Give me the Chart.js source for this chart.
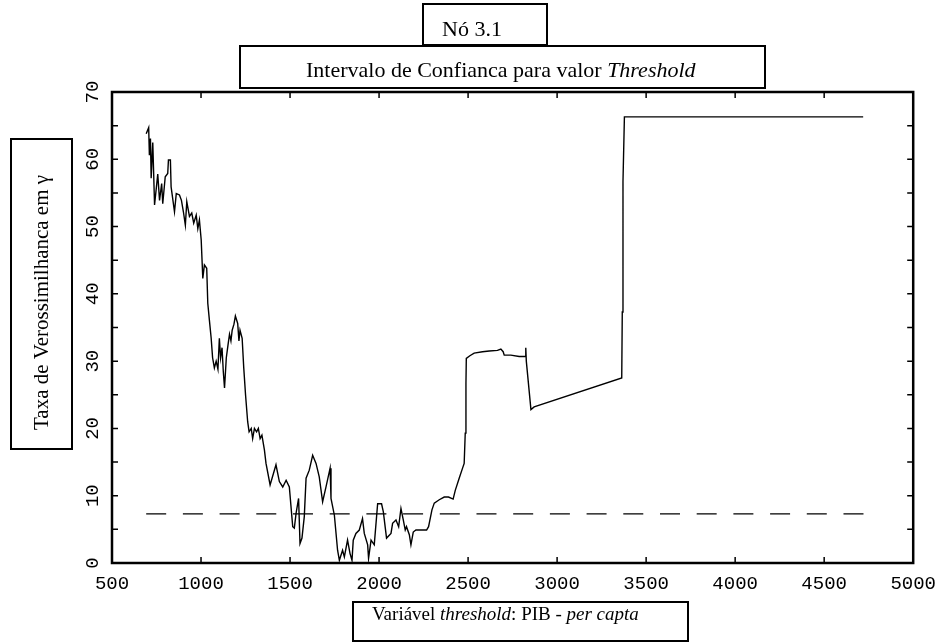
<!DOCTYPE html>
<html>
<head>
<meta charset="utf-8">
<script src="https://cdn.jsdelivr.net/npm/chart.js@4.4.1/dist/chart.umd.min.js"></script>
<style>
  body { margin: 0; background: #fff; }
</style>
</head>
<body>
<canvas id="myChart" width="946" height="644"></canvas>
<script>
// threshold candidates (PIB per capta) and likelihood ratio values
const gammaX = [
  692, 706, 710, 716, 720, 729, 739, 757, 767, 779, 785, 799, 813, 817, 828, 832,
  851, 861, 879, 890, 901, 912, 920, 935, 948, 959, 973, 982, 991, 1001, 1010, 1019,
  1032, 1038, 1047, 1057, 1065, 1075, 1085, 1095, 1103, 1110, 1118, 1125, 1132, 1142,
  1152, 1160, 1168, 1175, 1185, 1193, 1206, 1213, 1219, 1231, 1240, 1250, 1262, 1270,
  1282, 1290, 1300, 1312, 1322, 1332, 1342, 1356, 1365, 1388, 1421, 1440, 1459, 1478,
  1496, 1515, 1524, 1534, 1548, 1556, 1567, 1580, 1590, 1608, 1627, 1646, 1664, 1683,
  1702, 1725, 1730, 1749, 1767, 1777, 1795, 1805, 1823, 1837, 1848, 1855, 1870, 1889,
  1907, 1917, 1936, 1941, 1955, 1973, 1986, 1992, 2014, 2024, 2042, 2067, 2076, 2095,
  2110, 2123, 2136, 2147, 2154, 2170, 2179, 2192, 2207, 2267, 2278, 2297, 2310, 2338,
  2366, 2390, 2416, 2428, 2450, 2469, 2478, 2484, 2488, 2490, 2510, 2534, 2581, 2619,
  2665, 2684, 2697, 2703, 2740, 2787, 2821, 2824, 2827, 2853, 2871, 3363, 3366, 3370,
  3378, 4719
];
const lrValues = [
  63.8, 64.7, 60.6, 63.1, 57.2, 62.5, 53.2, 57.8, 53.9, 56.4, 53.4, 57.4, 57.9, 59.9, 59.9, 55.9,
  52.2, 54.9, 54.7, 53.9, 52.2, 50.2, 53.7, 51.5, 52.0, 50.5, 51.7, 49.7, 51.0, 48.0, 42.3, 44.3,
  43.8, 38.6, 36.1, 33.4, 30.5, 29.0, 30.0, 28.8, 33.4, 30.5, 32.0, 28.5, 26.0, 30.5,
  32.5, 34.0, 33.0, 34.6, 35.5, 36.7, 35.6, 33.0, 34.6, 33.4, 29.0, 25.0, 21.0, 19.5,
  20.0, 18.5, 20.0, 19.5, 20.0, 18.5, 19.0, 16.8, 14.8, 11.6, 14.6, 12.1, 11.3, 12.3,
  11.3, 5.4, 5.2, 7.4, 9.6, 2.9, 3.7, 6.9, 12.6, 13.8, 16.0, 14.8, 12.8, 9.1,
  11.3, 14.1, 9.6, 7.1, 1.9, 0.4, 1.9, 0.9, 3.4, 1.4, 0.4, 3.4, 4.4, 4.9,
  6.6, 4.4, 2.7, 0.7, 3.4, 2.7, 6.9, 8.8, 8.8, 7.6, 3.7, 4.4, 5.9, 6.4,
  5.4, 8.1, 6.4, 4.9, 5.4, 4.2, 2.7, 4.6, 4.9, 4.9, 5.4, 7.9, 8.9, 9.4,
  9.8, 9.8, 9.5, 10.8, 12.6, 14.1, 14.8, 19.3, 26.7, 30.4, 30.8, 31.2, 31.4, 31.5,
  31.6, 31.8, 31.4, 30.9, 30.9, 30.7, 30.7, 32.0, 30.0, 22.8, 23.2, 27.5, 37.3, 56.7,
  66.3, 66.3
];
// critical value line
const critX = [692, 4800];
const critY = [7.3, 7.3];

const xTicks = [500, 1000, 1500, 2000, 2500, 3000, 3500, 4000, 4500, 5000];
const yTickLabels = [0, 10, 20, 30, 40, 50, 60, 70];

const titleTop = [["Nó 3.1", false]];
const titleMain = [["Intervalo de Confianca para valor ", false], ["Threshold", true]];
const xTitle = [["Variável ", false], ["threshold", true], [": PIB - ", false], ["per capta", true]];
const yTitle = [["Taxa de Verossimilhanca em γ", false]];

const serif = '"Liberation Serif", "Times New Roman", serif';
const mono = '"Liberation Mono", "Courier New", monospace';

function drawRich(ctx, x, y, parts, size) {
  let cx = x;
  parts.forEach(([txt, italic]) => {
    ctx.font = (italic ? 'italic ' : '') + size + 'px ' + serif;
    ctx.fillText(txt, cx, y);
    cx += ctx.measureText(txt).width;
  });
}

function box(ctx, x0, y0, x1, y1) {
  ctx.strokeRect(x0, y0, x1 - x0, y1 - y0);
}

const framePlugin = {
  id: 'frame',
  afterDatasetsDraw(chart) {
    const ctx = chart.ctx;
    const a = chart.chartArea;
    const x = chart.scales.x, y = chart.scales.y;
    ctx.save();
    ctx.strokeStyle = '#000';
    ctx.fillStyle = '#000';

    // ticks pointing inwards on all four sides
    ctx.lineWidth = 1.5;
    ctx.beginPath();
    x.ticks.forEach(t => {
      const px = x.getPixelForValue(t.value);
      ctx.moveTo(px, a.bottom); ctx.lineTo(px, a.bottom - 6);
      ctx.moveTo(px, a.top); ctx.lineTo(px, a.top + 6);
    });
    y.ticks.forEach(t => {
      const py = y.getPixelForValue(t.value);
      ctx.moveTo(a.left, py); ctx.lineTo(a.left + 6, py);
      ctx.moveTo(a.right, py); ctx.lineTo(a.right - 6, py);
    });
    ctx.stroke();

    ctx.lineWidth = 2.5;
    ctx.strokeRect(a.left, a.top, a.right - a.left, a.bottom - a.top);

    // rotated y labels
    ctx.font = '19px ' + mono;
    ctx.textAlign = 'center';
    ctx.textBaseline = 'middle';
    yTickLabels.forEach(v => {
      ctx.save();
      ctx.translate(93, y.getPixelForValue(v));
      ctx.rotate(-Math.PI / 2);
      ctx.fillText(String(v), 0, 0);
      ctx.restore();
    });

    // boxed titles
    ctx.textAlign = 'left';
    ctx.textBaseline = 'alphabetic';
    ctx.lineWidth = 2;
    box(ctx, 423, 4, 547, 45);
    drawRich(ctx, 442, 36, titleTop, 22);
    box(ctx, 240, 46, 765, 88);
    drawRich(ctx, 306, 77, titleMain, 22);
    box(ctx, 353, 602, 688, 641);
    drawRich(ctx, 372, 620, xTitle, 19);
    box(ctx, 11, 139, 72, 449);
    ctx.save();
    ctx.translate(48, 430);
    ctx.rotate(-Math.PI / 2);
    drawRich(ctx, 0, 0, yTitle, 21);
    ctx.restore();

    ctx.restore();
  }
};

new Chart(document.getElementById('myChart'), {
  type: 'line',
  data: {
    datasets: [{
      data: gammaX.map((g, i) => ({ x: g, y: lrValues[i] })),
      borderColor: '#000',
      borderWidth: 1.4,
      pointRadius: 0,
      tension: 0
    }, {
      data: critX.map((g, i) => ({ x: g, y: critY[i] })),
      borderColor: '#000',
      borderWidth: 1.4,
      borderDash: [20, 16.7],
      pointRadius: 0
    }]
  },
  options: {
    responsive: false,
    animation: false,
    events: [],
    layout: { padding: { top: 92, right: 32, bottom: 0, left: 0 } },
    plugins: { legend: { display: false }, tooltip: { enabled: false } },
    scales: {
      x: {
        type: 'linear', min: 500, max: 5000,
        afterFit: (s) => { s.height = 81; },
        afterBuildTicks: (s) => { s.ticks = xTicks.map(v => ({ value: v })); },
        grid: { display: false, drawTicks: false },
        border: { display: false },
        ticks: { color: '#000', padding: 10, maxRotation: 0, autoSkip: false,
                 font: { family: mono, size: 19 },
                 callback: (v) => String(v) }
      },
      y: {
        min: 0, max: 70,
        afterFit: (s) => { s.width = 112; },
        grid: { display: false, drawTicks: false },
        border: { display: false },
        ticks: { display: false, stepSize: 5 }
      }
    }
  },
  plugins: [framePlugin]
});
</script>
</body>
</html>
